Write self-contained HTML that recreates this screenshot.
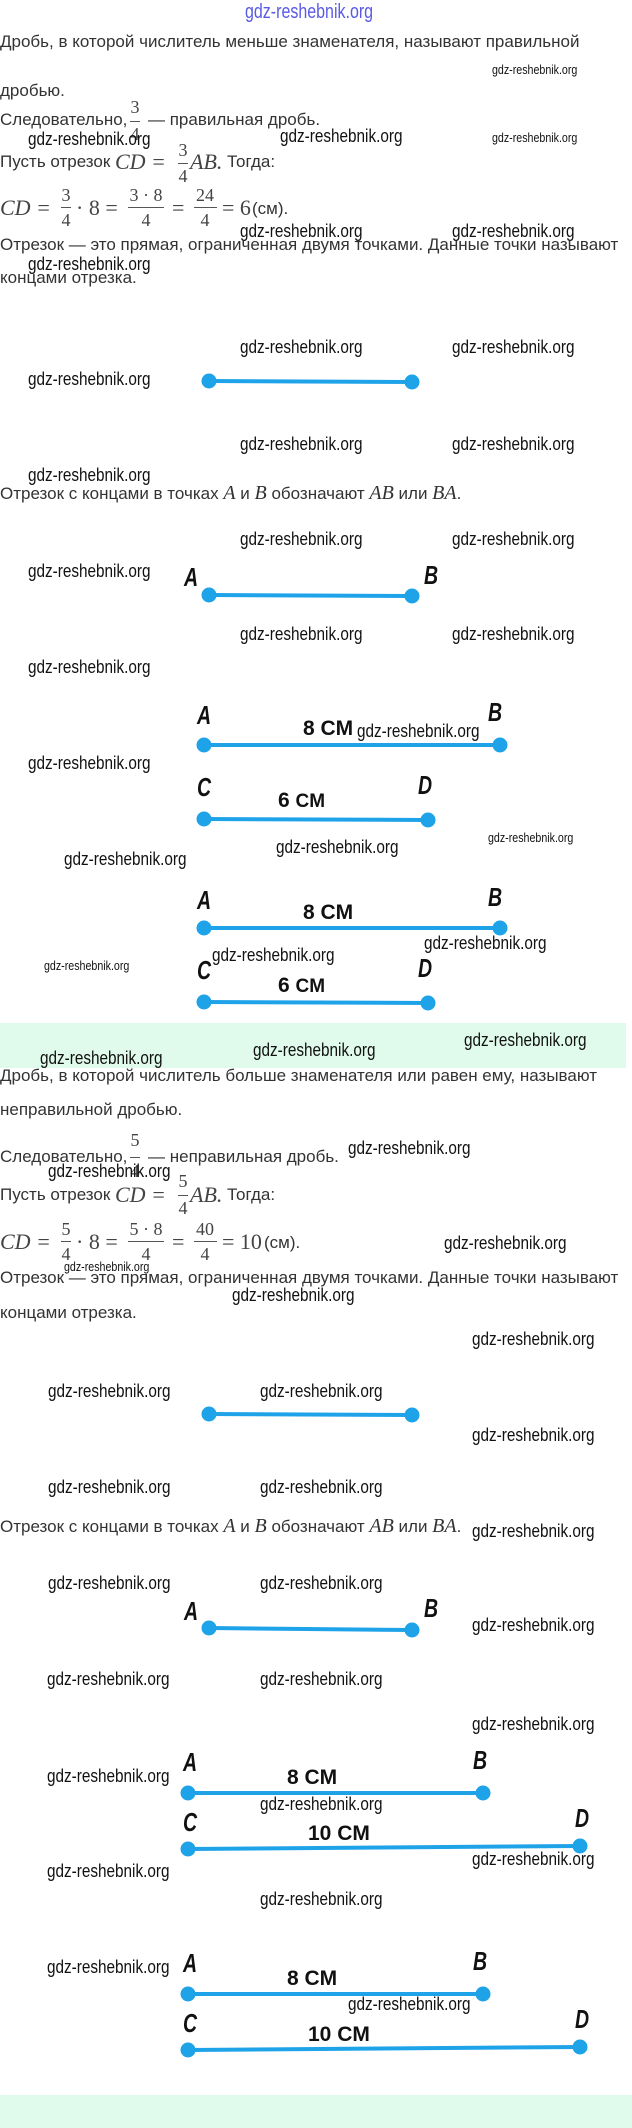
<!DOCTYPE html>
<html><head><meta charset="utf-8"><style>
body{margin:0;width:632px;height:2128px;position:relative;background:#fff;overflow:hidden;font-family:"Liberation Sans",sans-serif;color:#333}
.t{position:absolute;white-space:nowrap;line-height:1;font-size:17px}
.m{position:absolute;white-space:nowrap;line-height:1;font-family:"Liberation Serif",serif;font-style:italic;font-size:22px;color:#444}
.n{position:absolute;white-space:nowrap;line-height:1;font-family:"Liberation Serif",serif;font-size:18px;color:#444;transform:translateX(-50%)}
.bar{position:absolute;height:1px;background:#555}
.w{position:absolute;white-space:nowrap;line-height:1;font-size:18px;color:#111;transform:scaleX(0.85);transform-origin:left}
.ws{position:absolute;white-space:nowrap;line-height:1;font-size:13px;color:#111;transform:scaleX(0.82);transform-origin:left}
.L{position:absolute;line-height:1;font-size:26px;font-weight:bold;font-style:italic;color:#111;transform:scaleX(0.75);transform-origin:left}
.c{position:absolute;white-space:nowrap;line-height:1;font-size:21px;font-weight:bold;color:#111}
.band{position:absolute;left:0;width:626px;background:#e0fbec}
svg{position:absolute;left:0;top:0}
</style></head><body>
<div class="band" style="top:1023px;height:45px"></div>
<div class="band" style="top:2095px;height:33px;width:632px"></div>
<svg width="632" height="2128">
<g stroke="#1ea3e8" stroke-width="4" fill="#1ea3e8">
<line x1="209" y1="381" x2="412" y2="382"/><circle cx="209" cy="381" r="5.5"/><circle cx="412" cy="382" r="5.5"/>
<line x1="209" y1="595" x2="412" y2="596"/><circle cx="209" cy="595" r="5.5"/><circle cx="412" cy="596" r="5.5"/>
<line x1="204" y1="745" x2="500" y2="745"/><circle cx="204" cy="745" r="5.5"/><circle cx="500" cy="745" r="5.5"/>
<line x1="204" y1="819" x2="428" y2="820"/><circle cx="204" cy="819" r="5.5"/><circle cx="428" cy="820" r="5.5"/>
<line x1="204" y1="928" x2="500" y2="928"/><circle cx="204" cy="928" r="5.5"/><circle cx="500" cy="928" r="5.5"/>
<line x1="204" y1="1002" x2="428" y2="1003"/><circle cx="204" cy="1002" r="5.5"/><circle cx="428" cy="1003" r="5.5"/>
<line x1="209" y1="1414" x2="412" y2="1415"/><circle cx="209" cy="1414" r="5.5"/><circle cx="412" cy="1415" r="5.5"/>
<line x1="209" y1="1628" x2="412" y2="1630"/><circle cx="209" cy="1628" r="5.5"/><circle cx="412" cy="1630" r="5.5"/>
<line x1="188" y1="1793" x2="483" y2="1793"/><circle cx="188" cy="1793" r="5.5"/><circle cx="483" cy="1793" r="5.5"/>
<line x1="188" y1="1849" x2="580" y2="1846"/><circle cx="188" cy="1849" r="5.5"/><circle cx="580" cy="1846" r="5.5"/>
<line x1="188" y1="1994" x2="483" y2="1994"/><circle cx="188" cy="1994" r="5.5"/><circle cx="483" cy="1994" r="5.5"/>
<line x1="188" y1="2050" x2="580" y2="2047"/><circle cx="188" cy="2050" r="5.5"/><circle cx="580" cy="2047" r="5.5"/>
</g></svg>

<div class="t" style="left:245px;top:2px;font-size:20px;color:#5a5ae6;transform:scaleX(0.8);transform-origin:left">gdz-reshebnik.org</div>

<div class="t" style="left:0;top:33px">Дробь, в которой числитель меньше знаменателя, называют правильной</div>
<div class="t" style="left:0;top:82px">дробью.</div>
<div class="t" style="left:0;top:111px">Следовательно,</div>
<div class="n" style="left:135px;top:98px">3</div><div class="bar" style="left:130px;top:121px;width:10px"></div><div class="n" style="left:135px;top:125px">4</div>
<div class="t" style="left:148px;top:111px">— правильная дробь.</div>
<div class="t" style="left:0;top:153px">Пусть отрезок</div>
<div class="m" style="left:115px;top:151px">CD =</div>
<div class="n" style="left:183px;top:141px">3</div><div class="bar" style="left:178px;top:163px;width:10px"></div><div class="n" style="left:183px;top:167px">4</div>
<div class="m" style="left:190px;top:151px">AB.</div>
<div class="t" style="left:227px;top:153px">Тогда:</div>
<div class="m" style="left:0;top:197px">CD =</div>
<div class="n" style="left:66px;top:186px">3</div><div class="bar" style="left:61px;top:207px;width:10px"></div><div class="n" style="left:66px;top:211px">4</div>
<div class="m" style="left:76px;top:197px;font-style:normal">· 8 =</div>
<div class="n" style="left:146px;top:186px">3 · 8</div><div class="bar" style="left:128px;top:207px;width:36px"></div><div class="n" style="left:146px;top:211px">4</div>
<div class="m" style="left:172px;top:197px;font-style:normal">=</div>
<div class="n" style="left:205px;top:186px">24</div><div class="bar" style="left:194px;top:207px;width:23px"></div><div class="n" style="left:205px;top:211px">4</div>
<div class="m" style="left:222px;top:197px;font-style:normal">= 6</div>
<div class="t" style="left:252px;top:200px">(см).</div>
<div class="t" style="left:0;top:236px">Отрезок — это прямая, ограниченная двумя точками. Данные точки называют</div>
<div class="t" style="left:0;top:269px">концами отрезка.</div>
<div class="t" style="left:0;top:483px">Отрезок с концами в точках <span style="font-family:'Liberation Serif';font-style:italic;font-size:20px">A</span> и <span style="font-family:'Liberation Serif';font-style:italic;font-size:20px">B</span> обозначают <span style="font-family:'Liberation Serif';font-style:italic;font-size:20px">AB</span> или <span style="font-family:'Liberation Serif';font-style:italic;font-size:20px">BA</span>.</div>

<div class="L" style="left:184px;top:564px">A</div><div class="L" style="left:424px;top:562px">B</div>
<div class="L" style="left:197px;top:702px">A</div><div class="L" style="left:488px;top:699px">B</div>
<div class="c" style="left:303px;top:718px">8 CM</div>
<div class="L" style="left:197px;top:774px">C</div><div class="L" style="left:418px;top:772px">D</div>
<div class="c" style="left:278px;top:790px">6 <span style="font-size:19px">CM</span></div>
<div class="L" style="left:197px;top:887px">A</div><div class="L" style="left:488px;top:884px">B</div>
<div class="c" style="left:303px;top:902px">8 CM</div>
<div class="L" style="left:197px;top:957px">C</div><div class="L" style="left:418px;top:955px">D</div>
<div class="c" style="left:278px;top:975px">6 <span style="font-size:19px">CM</span></div>

<div class="t" style="left:0;top:1067px">Дробь, в которой числитель больше знаменателя или равен ему, называют</div>
<div class="t" style="left:0;top:1101px">неправильной дробью.</div>
<div class="t" style="left:0;top:1148px">Следовательно,</div>
<div class="n" style="left:135px;top:1131px">5</div><div class="bar" style="left:130px;top:1157px;width:10px"></div><div class="n" style="left:135px;top:1162px">4</div>
<div class="t" style="left:148px;top:1148px">— неправильная дробь.</div>
<div class="t" style="left:0;top:1186px">Пусть отрезок</div>
<div class="m" style="left:115px;top:1184px">CD =</div>
<div class="n" style="left:183px;top:1172px">5</div><div class="bar" style="left:178px;top:1195px;width:10px"></div><div class="n" style="left:183px;top:1199px">4</div>
<div class="m" style="left:190px;top:1184px">AB.</div>
<div class="t" style="left:227px;top:1186px">Тогда:</div>
<div class="m" style="left:0;top:1231px">CD =</div>
<div class="n" style="left:66px;top:1220px">5</div><div class="bar" style="left:61px;top:1241px;width:10px"></div><div class="n" style="left:66px;top:1245px">4</div>
<div class="m" style="left:76px;top:1231px;font-style:normal">· 8 =</div>
<div class="n" style="left:146px;top:1220px">5 · 8</div><div class="bar" style="left:128px;top:1241px;width:36px"></div><div class="n" style="left:146px;top:1245px">4</div>
<div class="m" style="left:172px;top:1231px;font-style:normal">=</div>
<div class="n" style="left:205px;top:1220px">40</div><div class="bar" style="left:194px;top:1241px;width:23px"></div><div class="n" style="left:205px;top:1245px">4</div>
<div class="m" style="left:222px;top:1231px;font-style:normal">= 10</div>
<div class="t" style="left:264px;top:1234px">(см).</div>
<div class="t" style="left:0;top:1269px">Отрезок — это прямая, ограниченная двумя точками. Данные точки называют</div>
<div class="t" style="left:0;top:1304px">концами отрезка.</div>
<div class="t" style="left:0;top:1516px">Отрезок с концами в точках <span style="font-family:'Liberation Serif';font-style:italic;font-size:20px">A</span> и <span style="font-family:'Liberation Serif';font-style:italic;font-size:20px">B</span> обозначают <span style="font-family:'Liberation Serif';font-style:italic;font-size:20px">AB</span> или <span style="font-family:'Liberation Serif';font-style:italic;font-size:20px">BA</span>.</div>

<div class="L" style="left:184px;top:1598px">A</div><div class="L" style="left:424px;top:1595px">B</div>
<div class="L" style="left:183px;top:1749px">A</div><div class="L" style="left:473px;top:1747px">B</div>
<div class="c" style="left:287px;top:1767px">8 CM</div>
<div class="L" style="left:183px;top:1809px">C</div><div class="L" style="left:575px;top:1805px">D</div>
<div class="c" style="left:308px;top:1823px">10 CM</div>
<div class="L" style="left:183px;top:1950px">A</div><div class="L" style="left:473px;top:1948px">B</div>
<div class="c" style="left:287px;top:1968px">8 CM</div>
<div class="L" style="left:183px;top:2010px">C</div><div class="L" style="left:575px;top:2006px">D</div>
<div class="c" style="left:308px;top:2024px">10 CM</div>

<div class="ws" style="left:492px;top:63px">gdz-reshebnik.org</div>
<div class="w" style="left:28px;top:130px">gdz-reshebnik.org</div>
<div class="w" style="left:280px;top:127px">gdz-reshebnik.org</div>
<div class="ws" style="left:492px;top:131px">gdz-reshebnik.org</div>
<div class="w" style="left:240px;top:222px">gdz-reshebnik.org</div>
<div class="w" style="left:452px;top:222px">gdz-reshebnik.org</div>
<div class="w" style="left:28px;top:255px">gdz-reshebnik.org</div>
<div class="w" style="left:240px;top:338px">gdz-reshebnik.org</div>
<div class="w" style="left:452px;top:338px">gdz-reshebnik.org</div>
<div class="w" style="left:28px;top:370px">gdz-reshebnik.org</div>
<div class="w" style="left:240px;top:435px">gdz-reshebnik.org</div>
<div class="w" style="left:452px;top:435px">gdz-reshebnik.org</div>
<div class="w" style="left:28px;top:466px">gdz-reshebnik.org</div>
<div class="w" style="left:240px;top:530px">gdz-reshebnik.org</div>
<div class="w" style="left:452px;top:530px">gdz-reshebnik.org</div>
<div class="w" style="left:28px;top:562px">gdz-reshebnik.org</div>
<div class="w" style="left:240px;top:625px">gdz-reshebnik.org</div>
<div class="w" style="left:452px;top:625px">gdz-reshebnik.org</div>
<div class="w" style="left:28px;top:658px">gdz-reshebnik.org</div>
<div class="w" style="left:357px;top:722px">gdz-reshebnik.org</div>
<div class="w" style="left:28px;top:754px">gdz-reshebnik.org</div>
<div class="ws" style="left:488px;top:831px">gdz-reshebnik.org</div>
<div class="w" style="left:276px;top:838px">gdz-reshebnik.org</div>
<div class="w" style="left:64px;top:850px">gdz-reshebnik.org</div>
<div class="w" style="left:424px;top:934px">gdz-reshebnik.org</div>
<div class="w" style="left:212px;top:946px">gdz-reshebnik.org</div>
<div class="ws" style="left:44px;top:959px">gdz-reshebnik.org</div>
<div class="w" style="left:464px;top:1031px">gdz-reshebnik.org</div>
<div class="w" style="left:253px;top:1041px">gdz-reshebnik.org</div>
<div class="w" style="left:40px;top:1049px">gdz-reshebnik.org</div>
<div class="w" style="left:348px;top:1139px">gdz-reshebnik.org</div>
<div class="w" style="left:48px;top:1162px">gdz-reshebnik.org</div>
<div class="w" style="left:444px;top:1234px">gdz-reshebnik.org</div>
<div class="ws" style="left:64px;top:1260px">gdz-reshebnik.org</div>
<div class="w" style="left:232px;top:1286px">gdz-reshebnik.org</div>
<div class="w" style="left:472px;top:1330px">gdz-reshebnik.org</div>
<div class="w" style="left:48px;top:1382px">gdz-reshebnik.org</div>
<div class="w" style="left:260px;top:1382px">gdz-reshebnik.org</div>
<div class="w" style="left:472px;top:1426px">gdz-reshebnik.org</div>
<div class="w" style="left:48px;top:1478px">gdz-reshebnik.org</div>
<div class="w" style="left:260px;top:1478px">gdz-reshebnik.org</div>
<div class="w" style="left:472px;top:1522px">gdz-reshebnik.org</div>
<div class="w" style="left:48px;top:1574px">gdz-reshebnik.org</div>
<div class="w" style="left:260px;top:1574px">gdz-reshebnik.org</div>
<div class="w" style="left:472px;top:1616px">gdz-reshebnik.org</div>
<div class="w" style="left:47px;top:1670px">gdz-reshebnik.org</div>
<div class="w" style="left:260px;top:1670px">gdz-reshebnik.org</div>
<div class="w" style="left:472px;top:1715px">gdz-reshebnik.org</div>
<div class="w" style="left:47px;top:1767px">gdz-reshebnik.org</div>
<div class="w" style="left:260px;top:1795px">gdz-reshebnik.org</div>
<div class="w" style="left:472px;top:1850px">gdz-reshebnik.org</div>
<div class="w" style="left:47px;top:1862px">gdz-reshebnik.org</div>
<div class="w" style="left:260px;top:1890px">gdz-reshebnik.org</div>
<div class="w" style="left:47px;top:1958px">gdz-reshebnik.org</div>
<div class="w" style="left:348px;top:1995px">gdz-reshebnik.org</div>
</body></html>
